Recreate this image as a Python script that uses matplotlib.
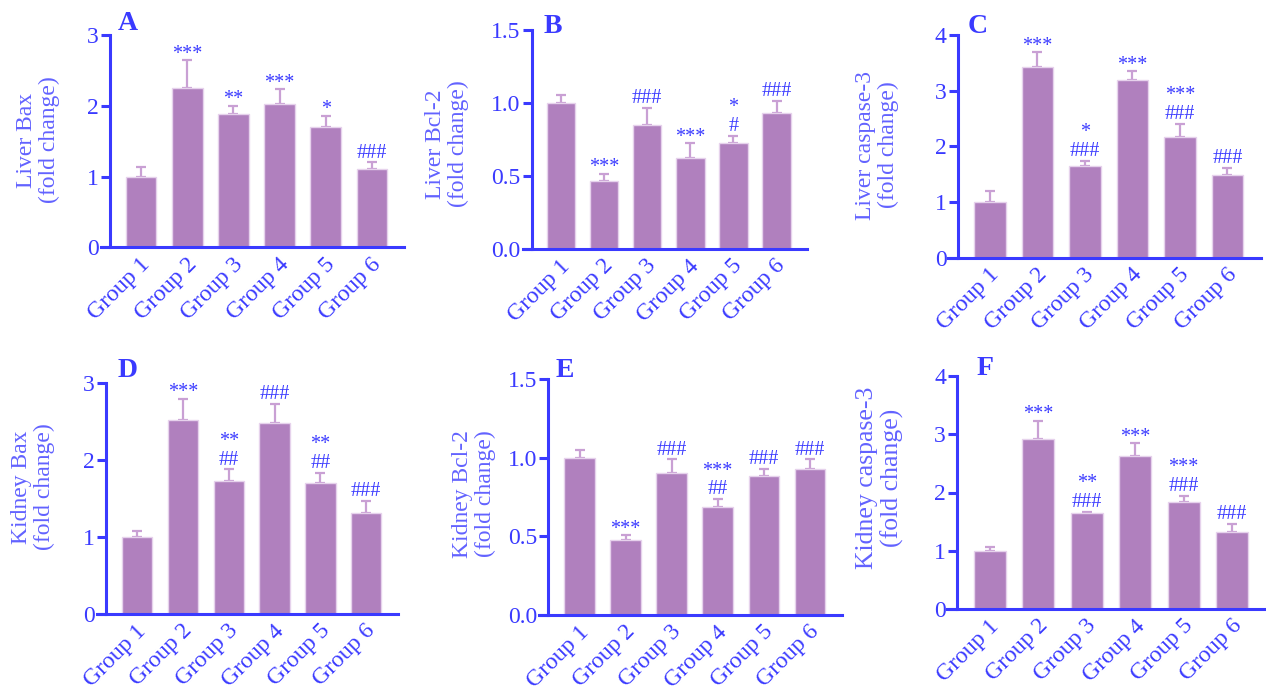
import matplotlib.pyplot as plt

# figure size in pixels
W, H = 1266, 691

groups = ['Group 1', 'Group 2', 'Group 3', 'Group 4', 'Group 5', 'Group 6']

# Liver Bax
liver_bax = [1.00, 2.25, 1.89, 2.02, 1.70, 1.11]
liver_bax_sem = [0.13, 0.39, 0.11, 0.21, 0.16, 0.09]
liver_bax_star = ['', '***', '**', '***', '*', '']
liver_bax_hash = ['', '', '', '', '', '###']

# Liver Bcl-2
liver_bcl2 = [1.00, 0.463, 0.852, 0.626, 0.728, 0.932]
liver_bcl2_sem = [0.055, 0.053, 0.116, 0.100, 0.046, 0.084]
liver_bcl2_star = ['', '***', '', '***', '*', '']
liver_bcl2_hash = ['', '', '###', '', '#', '###']

# Liver caspase-3
liver_casp3 = [1.00, 3.43, 1.64, 3.19, 2.17, 1.49]
liver_casp3_sem = [0.20, 0.26, 0.10, 0.16, 0.23, 0.13]
liver_casp3_star = ['', '***', '*', '***', '***', '']
liver_casp3_hash = ['', '', '###', '', '###', '###']

# Kidney Bax
kidney_bax = [1.00, 2.52, 1.73, 2.49, 1.71, 1.31]
kidney_bax_sem = [0.08, 0.28, 0.15, 0.24, 0.13, 0.16]
kidney_bax_star = ['', '***', '**', '', '**', '']
kidney_bax_hash = ['', '', '##', '###', '##', '###']

# Kidney Bcl-2
kidney_bcl2 = [1.00, 0.476, 0.905, 0.688, 0.887, 0.926]
kidney_bcl2_sem = [0.050, 0.031, 0.085, 0.049, 0.041, 0.064]
kidney_bcl2_star = ['', '***', '', '***', '', '']
kidney_bcl2_hash = ['', '', '###', '##', '###', '###']

# Kidney caspase-3
kidney_casp3 = [1.00, 2.92, 1.65, 2.63, 1.83, 1.32]
kidney_casp3_sem = [0.06, 0.31, 0.02, 0.22, 0.11, 0.14]
kidney_casp3_star = ['', '***', '**', '***', '***', '']
kidney_casp3_hash = ['', '', '###', '', '###', '###']

# 色
BAR = '#b080be'
BAR_EDGE = '#e6d2ec'
ERR = '#c9a0d4'
BLUE = '#3a3aff'
LABEL_BLUE = '#6262ff'

plt.rcParams['font.family'] = ['Liberation Serif', 'DejaVu Serif']

# パネル設定: (文字, 値, SEM, *, #, ylabel, yticks, 軸の枠[px], 文字位置[px], ylabel位置[px])
panels = [
    ('A', liver_bax, liver_bax_sem, liver_bax_star, liver_bax_hash,
     'Liver Bax\n(fold change)', [0, 1, 2, 3], ['0', '1', '2', '3'],
     (100.7, 404, 35, 247.3), (118, 30), (38, 140), 17),
    ('B', liver_bcl2, liver_bcl2_sem, liver_bcl2_star, liver_bcl2_hash,
     'Liver Bcl-2\n(fold change)', [0, 0.5, 1.0, 1.5], ['0.0', '0.5', '1.0', '1.5'],
     (523, 806.7, 30, 249), (544, 33), (447, 144), 17),
    ('C', liver_casp3, liver_casp3_sem, liver_casp3_star, liver_casp3_hash,
     'Liver caspase-3\n(fold change)', [0, 1, 2, 3, 4], ['0', '1', '2', '3', '4'],
     (948, 1260.7, 35, 257.7), (968, 33), (877, 145), 17),
    ('D', kidney_bax, kidney_bax_sem, kidney_bax_star, kidney_bax_hash,
     'Kidney Bax\n(fold change)', [0, 1, 2, 3], ['0', '1', '2', '3'],
     (96.7, 398.3, 383.3, 614), (118, 377), (33, 487), 17),
    ('E', kidney_bcl2, kidney_bcl2_sem, kidney_bcl2_star, kidney_bcl2_hash,
     'Kidney Bcl-2\n(fold change)', [0, 0.5, 1.0, 1.5], ['0.0', '0.5', '1.0', '1.5'],
     (539, 842, 379.3, 615), (556, 377), (474, 494), 17),
    ('F', kidney_casp3, kidney_casp3_sem, kidney_casp3_star, kidney_casp3_hash,
     'Kidney caspase-3\n(fold change)', [0, 1, 2, 3, 4], ['0', '1', '2', '3', '4'],
     (947.3, 1266, 376, 609), (977, 375), (880, 478), 18.5),
]

fig = plt.figure(figsize=(W / 100, H / 100), dpi=100)

for (letter, means, sems, stars, hashes, ylabel, yticks, yticklabels,
     box, letter_pos, ylabel_pos, ylabel_size) in panels:
    x0, x1, ytop, ybot = box
    ax = fig.add_axes([x0 / W, 1 - ybot / H, (x1 - x0) / W, (ybot - ytop) / H])
    xs = list(range(len(groups)))

    # 棒グラフ（上側のみのエラーバー）
    ax.bar(xs, means, width=0.66, color=BAR, edgecolor=BAR_EDGE, linewidth=1, zorder=2)
    ax.errorbar(xs, means, yerr=[[0] * len(sems), sems], fmt='none', ecolor=ERR,
                elinewidth=1.6, capsize=3.6, capthick=1.6, zorder=1)

    ax.set_xlim(-0.88, 5.70)
    ax.set_ylim(0, yticks[-1])
    ax.set_yticks(yticks)
    ax.set_yticklabels(yticklabels)
    # ラベルの右端が棒の中心より少し右に来るようにずらす（目盛線は非表示）
    ax.set_xticks([x + 0.13 for x in xs])
    ax.set_xticklabels(groups, rotation=45, ha='right', va='center',
                       rotation_mode='anchor')

    for side in ['top', 'right']:
        ax.spines[side].set_visible(False)
    ax.spines['left'].set_position(('data', -0.68))
    for side in ['left', 'bottom']:
        ax.spines[side].set_color(BLUE)
        ax.spines[side].set_linewidth(2.2)
    ax.tick_params(axis='y', colors=BLUE, labelcolor=BLUE, labelsize=17,
                   length=6.5, width=2.2, pad=1.5)
    ax.tick_params(axis='x', length=0, labelcolor=BLUE, labelsize=17, pad=10)

    # 有意差の記号
    for i in xs:
        top = means[i] + sems[i]
        if hashes[i]:
            ax.annotate(hashes[i], (i, top), xytext=(0, 3.5), textcoords='offset points',
                        ha='center', va='baseline', color=BLUE, fontsize=14.5,
                        annotation_clip=False)
            if stars[i]:
                ax.annotate(stars[i], (i, top), xytext=(0, 17), textcoords='offset points',
                            ha='center', va='baseline', color=BLUE, fontsize=14.5,
                            annotation_clip=False)
        elif stars[i]:
            ax.annotate(stars[i], (i, top), xytext=(0, 1), textcoords='offset points',
                        ha='center', va='baseline', color=BLUE, fontsize=14.5,
                        annotation_clip=False)

    # パネル文字
    fig.text(letter_pos[0] / W, 1 - letter_pos[1] / H, letter, color=BLUE,
             fontsize=20, fontweight='bold', ha='left', va='baseline')
    # Y軸ラベル
    fig.text(ylabel_pos[0] / W, 1 - ylabel_pos[1] / H, ylabel, color=LABEL_BLUE,
             fontsize=ylabel_size, rotation=90, ha='center', va='center',
             multialignment='center', linespacing=1.15)

plt.savefig('out.png', dpi=100)
